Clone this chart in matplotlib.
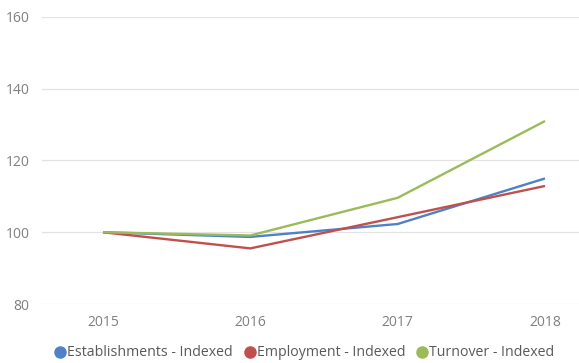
import matplotlib
matplotlib.use("Agg")
import matplotlib.pyplot as plt
from matplotlib.lines import Line2D

# index values, 2015 = 100
years = [2015, 2016, 2017, 2018]
establishments = [100, 98.7, 102.3, 115.0]
employment = [100, 95.5, 104.2, 112.9]
turnover = [100, 99.1, 109.6, 131.0]

series = [
    ("Establishments - Indexed", establishments, "#4f81c7"),
    ("Employment - Indexed", employment, "#c0504d"),
    ("Turnover - Indexed", turnover, "#9bbb59"),
]

plt.rcParams['font.family'] = ['Open Sans', 'DejaVu Sans']

fig = plt.figure(figsize=(5.79, 3.63), dpi=100)
ax = fig.add_axes([42 / 579, 59 / 363, 537 / 579, 287 / 363])

for name, vals, col in series:
    ax.plot(years, vals, color=col, linewidth=1.7, solid_capstyle='butt')

ax.set_ylim(80, 160)
ax.set_yticks([80, 100, 120, 140, 160])
ax.set_xlim(2015 - 61 / 147.4, 2018 + 34 / 147.4)
ax.set_xticks(years)
ax.set_xticklabels([str(y) for y in years])

ax.grid(axis='y', color='#e3e3e3', linewidth=0.9)
ax.set_axisbelow(True)
for s in ax.spines.values():
    s.set_visible(False)
ax.tick_params(length=0, colors='#7f7f7f', labelsize=10)
ax.tick_params(axis='y', pad=9)
ax.tick_params(axis='x', pad=8)

# legend with round markers along the bottom
handles = [Line2D([], [], linestyle='none', marker='o', markersize=8,
                  markerfacecolor=col, markeredgecolor=col)
           for _, _, col in series]
leg = fig.legend(handles, [s[0] for s in series], loc='center',
                 bbox_to_anchor=(303 / 579, 1 - 353 / 363), ncol=3,
                 frameon=False, fontsize=10.2, handletextpad=-0.1,
                 columnspacing=0.6, handlelength=1.2)
for t in leg.get_texts():
    t.set_color('#595959')

fig.savefig("out.png", dpi=100)
